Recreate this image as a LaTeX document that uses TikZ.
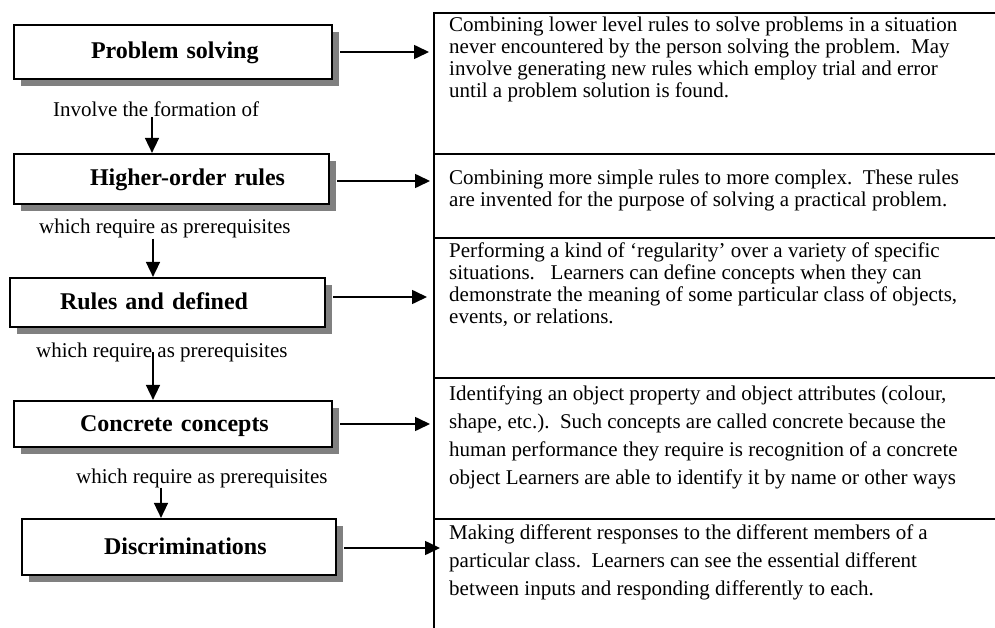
\documentclass[tikz,border=0pt]{standalone}
\usepackage{fontspec}
\setmainfont{Liberation Serif}
\usetikzlibrary{arrows.meta,shadows}

\begin{document}
\begin{tikzpicture}[x=1pt,y=-1pt,
  stage/.style={draw=black, line width=2.2pt, fill=white, inner sep=0pt,
    align=left, font=\bfseries\fontsize{24}{26}\selectfont,
    text height=18pt, text depth=4pt,
    drop shadow={shadow xshift=7pt, shadow yshift=-7pt, fill=black!50, opacity=1}},
  linktext/.style={font=\fontsize{21}{22}\selectfont, inner sep=0pt, anchor=base west},
  % multi-line cells, anchored at the baseline of their last line
  desc/.style={font=\fontsize{21}{22}\selectfont, inner sep=0pt, align=left, anchor=base west},
  descwide/.style={desc, font=\fontsize{21}{27.8}\selectfont},
  conn/.style={line width=1.6pt, -{Triangle[length=15pt,width=14pt]}},
  rule/.style={line width=2.2pt}
]
\useasboundingbox (0,0) rectangle (995,628);

% hierarchy of learning types
\node[stage, minimum width=318pt, minimum height=54pt, text width=318pt] (b1) at (173,52)
  {\hspace*{77pt}Problem solving};
\node[stage, minimum width=315pt, minimum height=50pt, text width=315pt] (b2) at (171.5,179)
  {\hspace*{76pt}Higher-order rules};
\node[stage, minimum width=315pt, minimum height=49pt, text width=315pt] (b3) at (167.5,302.5)
  {\hspace*{50pt}Rules and defined};
\node[stage, minimum width=318pt, minimum height=46pt, text width=318pt] (b4) at (173,424)
  {\hspace*{66pt}Concrete concepts};
\node[stage, minimum width=314pt, minimum height=56pt, text width=314pt] (b5) at (179,547)
  {\hspace*{82pt}Discriminations};

% relations between the levels
\node[linktext] (l1) at (53,117) {Involve the formation of};
\node[linktext] (l2) at (39,234) {which require as prerequisites};
\node[linktext] (l3) at (36,357) {which require as prerequisites};
\node[linktext] (l4) at (76,483) {which require as prerequisites};

\coordinate (c1) at (152,0);
\coordinate (c2) at (153,0);
\coordinate (c3) at (153,0);
\coordinate (c4) at (161,0);
\draw[conn] (l1.base -| c1) -- (b2.north -| c1);
\draw[conn] (l2.south -| c2) -- (b3.north -| c2);
\draw[conn] (l3.center -| c3) -- (b4.north -| c3);
\draw[conn] (l4.south -| c4) -- (b5.north -| c4);

% description table
\coordinate (colx) at (434,0);
\draw[rule] (434,640) -- (434,13) -- (1000,13);
\draw[rule] (434,154) -- (1000,154);
\draw[rule] (434,238) -- (1000,238);
\draw[rule] (434,378) -- (1000,378);
\draw[rule] (434,519) -- (1000,519);

\node[desc] (r1) at (449,98) {Combining lower level rules to solve problems in a situation\\
  never encountered by the person solving the problem.\ \ May\\
  involve generating new rules which employ trial and error\\
  until a problem solution is found.};
\node[desc] (r2) at (449,207) {Combining more simple rules to more complex.\ \ These rules\\
  are invented for the purpose of solving a practical problem.};
\node[desc] (r3) at (449,323) {Performing a kind of ‘regularity’ over a variety of specific\\
  situations.\ \ \ Learners can define concepts when they can\\
  demonstrate the meaning of some particular class of objects,\\
  events, or relations.};
\node[descwide] (r4) at (449,484) {Identifying an object property and object attributes (colour,\\
  shape, etc.).\ \ Such concepts are called concrete because the\\
  human performance they require is recognition of a concrete\\
  object Learners are able to identify it by name or other ways};
\node[descwide] (r5) at (449,595) {Making different responses to the different members of a\\
  particular class.\ \ Learners can see the essential different\\
  between inputs and responding differently to each.};

% each level points to its description
\draw[conn] ([xshift=7pt]b1.east) -- ([xshift=-5pt]b1.east -| colx);
\draw[conn] ([xshift=7pt,yshift=-2pt]b2.east) -- ([xshift=-4pt,yshift=-2pt]b2.east -| colx);
\draw[conn] ([xshift=7pt,yshift=5.5pt]b3.east) -- ([xshift=-7pt,yshift=5.5pt]b3.east -| colx);
\draw[conn] ([xshift=7pt]b4.east) -- ([xshift=-4pt]b4.east -| colx);
\draw[conn] ([xshift=7pt,yshift=-1pt]b5.east) -- ([xshift=6pt,yshift=-1pt]b5.east -| colx);
\end{tikzpicture}
\end{document}
